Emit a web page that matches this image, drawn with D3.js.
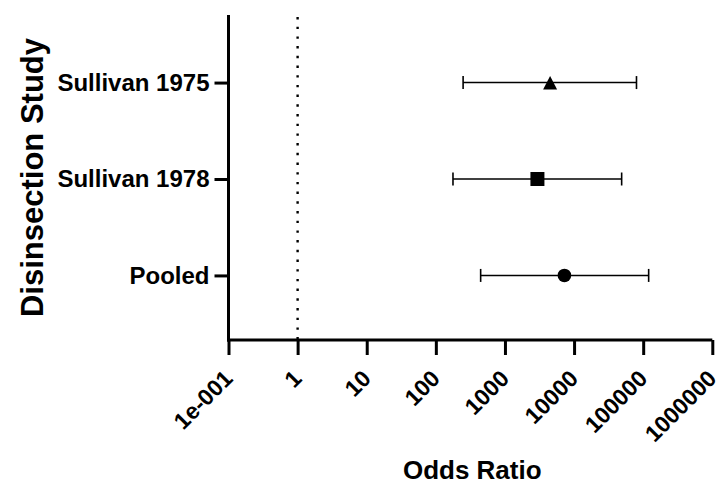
<!DOCTYPE html>
<html>
<head>
<meta charset="utf-8">
<script src="https://cdn.jsdelivr.net/npm/d3@7"></script>
<style>
  body { margin: 0; background: #fff; }
  text { font-family: "Liberation Sans", Arial, sans-serif; font-weight: bold; fill: #000; }
</style>
</head>
<body>
<div class="chart"></div>
<script>
// DATA ---------------------------------------------------------------
const studies = ['Sullivan 1975', 'Sullivan 1978', 'Pooled'];
const oddsRatio = [4500, 2950, 7250];
const lowerCI = [248, 177, 445];
const upperCI = [80000, 48800, 120000];
const xTicks = [0.1, 1, 10, 100, 1000, 10000, 100000, 1000000];
const xTickLabels = ['1e-001', '1', '10', '100', '1000', '10000', '100000', '1000000'];
const refLine = 1;

// CHART INIT ---------------------------------------------------------
const W = 721, H = 485;
const margin = ({top: 15, right: 9, bottom: 145, left: 228.5});
const width = W - margin.left - margin.right;
const height = H - margin.top - margin.bottom;

const svg = d3.select('.chart')
    .append('svg')
    .attr('width', W)
    .attr('height', H)
    .append('g')
    .attr('transform', 'translate(' + margin.left + ',' + margin.top + ')');

const xScale = d3.scaleLog()
    .domain([0.1, 1000000])
    .range([0, 483.8]);

const yScale = d3.scalePoint()
    .domain(studies)
    .range([2, height + 1])
    .padding(0.68);

// triangle that sits a bit low, like the original marker
const tri = {
    draw(ctx) {
        ctx.moveTo(0, -6.5);
        ctx.lineTo(7, 7);
        ctx.lineTo(-7, 7);
        ctx.closePath();
    }
};
const shape = d3.scaleOrdinal()
    .domain(studies)
    .range([d3.symbol(tri), d3.symbol(d3.symbolSquare, 196), d3.symbol(d3.symbolCircle, 145)]);

const rows = studies.map((s, i) => ({study: s, or: oddsRatio[i], lo: lowerCI[i], hi: upperCI[i]}));

// reference line at OR = 1
svg.append('line')
    .attr('x1', xScale(refLine)).attr('x2', xScale(refLine))
    .attr('y1', 2).attr('y2', height)
    .attr('stroke', '#000')
    .attr('stroke-width', 2.4)
    .attr('stroke-dasharray', '2.4,7.3');

// error bars
const g = svg.selectAll('.row')
    .data(rows)
    .enter()
    .append('g')
    .attr('class', 'row')
    .attr('transform', d => 'translate(0,' + yScale(d.study) + ')');

g.append('line')
    .attr('x1', d => xScale(d.lo)).attr('x2', d => xScale(d.hi))
    .attr('stroke', '#000').attr('stroke-width', 1.6);

g.selectAll('.cap')
    .data(d => [d.lo, d.hi])
    .enter()
    .append('line')
    .attr('x1', v => xScale(v)).attr('x2', v => xScale(v))
    .attr('y1', -6.5).attr('y2', 6.5)
    .attr('stroke', '#000').attr('stroke-width', 1.6);

g.append('path')
    .attr('transform', d => 'translate(' + xScale(d.or) + ',0)')
    .attr('d', d => shape(d.study)())
    .attr('fill', '#000');

// axes
const xAxis = d3.axisBottom(xScale)
    .tickValues(xTicks)
    .tickSize(15)
    .tickFormat((d, i) => xTickLabels[i]);

const gx = svg.append('g')
    .attr('class', 'axis x-axis')
    .attr('transform', 'translate(0,' + height + ')')
    .call(xAxis);

const yAxis = d3.axisLeft(yScale)
    .tickSize(14)
    .tickPadding(5);

const gy = svg.append('g')
    .attr('class', 'axis y-axis')
    .call(yAxis);

[gx, gy].forEach(a => {
    a.select('.domain').attr('stroke', '#000').attr('stroke-width', 3);
    a.selectAll('.tick line').attr('stroke', '#000').attr('stroke-width', 3);
});
gx.select('.domain').attr('d', 'M-1.5,0H' + xScale(1000000));
gy.select('.domain').attr('d', 'M0,0V' + (height + 1.5));

gx.selectAll('.tick text')
    .attr('font-size', 23)
    .attr('text-anchor', 'end')
    .attr('dy', 0)
    .attr('y', 0)
    .attr('transform', 'translate(5,40) rotate(-45)');

gy.selectAll('.tick text')
    .attr('font-size', 24);

// axis titles
svg.append('text')
    .attr('x', width / 2 + 2)
    .attr('y', height + 139)
    .attr('text-anchor', 'middle')
    .attr('font-size', 26)
    .text('Odds Ratio');

svg.append('text')
    .attr('transform', 'translate(' + (-186) + ',' + (height / 2) + ') rotate(-90)')
    .attr('text-anchor', 'middle')
    .attr('font-size', 31)
    .text('Disinsection Study');
</script>
</body>
</html>
